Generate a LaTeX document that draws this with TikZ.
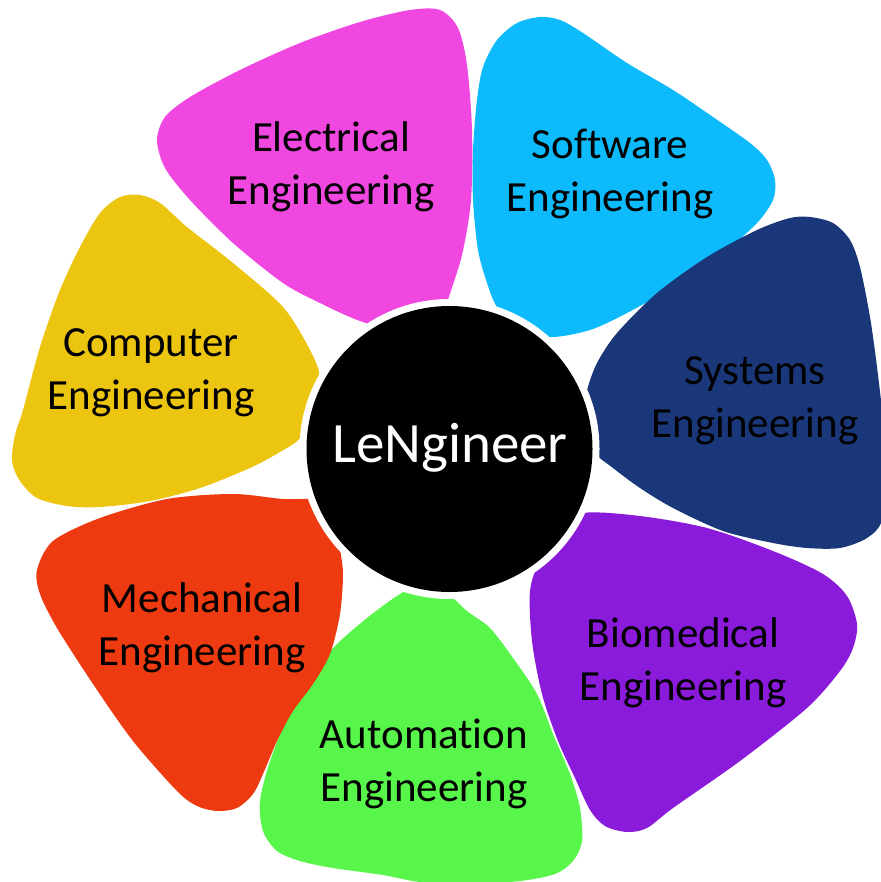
\documentclass[tikz,border=0pt]{standalone}
\usepackage{fontspec}
\setmainfont{Carlito}[Ligatures={NoCommon}]
\definecolor{cMag}{HTML}{F047E0}
\definecolor{cCyan}{HTML}{0DBAFB}
\definecolor{cNavy}{HTML}{1A377A}
\definecolor{cPurple}{HTML}{8A1BDB}
\definecolor{cGreen}{HTML}{58F54B}
\definecolor{cRed}{HTML}{EE3A11}
\definecolor{cYellow}{HTML}{EBC510}
\begin{document}
\begin{tikzpicture}[x=0.5pt,y=-0.5pt,
  lab/.style={align=center, font=\fontsize{21.5}{26.5}\selectfont, text=black, inner sep=0pt},
  corelab/.style={font=\fontsize{28.5}{34}\selectfont, text=white, inner sep=0pt, anchor=base}]
\useasboundingbox (0,0) rectangle (881,882);
% Electrical
\fill[cMag] plot[smooth cycle, tension=0.5] coordinates {(410,335) (360,321) (320,303) (283,283) (233,243) (190,200) (165,168) (157,140) (165,117) (190,97) (240,70) (300,43) (360,22) (410,10) (440,10) (458,28) (467,65) (472,130) (471,200) (462,255) (448,300) (440,330)};
% Software
\fill[cCyan] plot[smooth cycle, tension=0.5] coordinates {(540,17) (517,23) (497,40) (483,67) (477,100) (473,150) (473,200) (478,250) (487,283) (497,307) (517,327) (550,337) (590,330) (627,313) (673,287) (723,253) (757,223) (773,200) (775,180) (767,160) (750,143) (713,117) (673,90) (627,63) (583,33) (560,20)};
% Systems
\fill[cNavy] plot[smooth cycle, tension=0.5] coordinates {(580,420) (587,390) (597,363) (617,333) (657,293) (707,257) (757,230) (790,218) (810,217) (833,223) (850,240) (860,267) (870,317) (877,367) (883,420) (886,470) (882,520) (867,538) (840,548) (807,548) (773,543) (723,531) (673,508) (640,488) (613,468) (593,451)};
% Biomedical
\fill[cPurple] plot[smooth cycle, tension=0.5] coordinates {(583,513) (640,516) (707,528) (773,551) (823,574) (847,596) (857,624) (853,648) (840,671) (807,708) (740,761) (673,808) (647,828) (627,832) (605,826) (590,810) (575,778) (558,741) (542,694) (532,641) (530,591) (540,560) (560,530)};
% Automation
\fill[cGreen] plot[smooth cycle, tension=0.5] coordinates {(430,580) (467,611) (490,628) (513,658) (537,694) (553,734) (570,774) (580,808) (582,841) (573,861) (555,874) (520,881) (470,884) (420,882) (383,875) (333,868) (300,861) (277,851) (263,831) (260,801) (270,761) (287,718) (307,681) (333,648) (367,618) (400,594)};
% Mechanical
\fill[cRed] plot[smooth cycle, tension=0.5] coordinates {(53,541) (100,518) (167,499) (233,494) (283,499) (320,500) (337,515) (340,548) (343,574) (340,614) (330,654) (313,684) (293,711) (277,741) (263,774) (253,794) (237,808) (217,811) (197,806) (177,791) (133,741) (93,684) (57,628) (40,594) (37,570)};
% Computer
\fill[cYellow] plot[smooth cycle, tension=0.5] coordinates {(140,195) (160,203) (187,227) (233,263) (283,307) (310,350) (320,378) (313,410) (300,438) (280,452) (250,468) (200,488) (150,501) (100,507) (67,506) (37,498) (20,481) (12,461) (15,435) (23,410) (40,347) (60,290) (80,247) (100,213) (120,197)};
% centre
\fill[white] (449.5,449) circle[radius=150];
\fill[black] (449.5,449) circle[radius=143];
\node[corelab] (core) at (450,462) {LeNgineer};
\node[lab] (elec) at (331,167) {\strut Electrical\\\strut Engineering};
\node[lab] (soft) at (610,174) {\strut Software\\\strut Engineering};
\node[lab] (sys) at (755,400) {\strut Systems\\\strut Engineering};
\node[lab] (bio) at (683,663) {\strut Biomedical\\\strut Engineering};
\node[lab] (auto) at (424,764) {\strut Automation\\\strut Engineering};
\node[lab] (mech) at (202,628) {\strut Mechanical\\\strut Engineering};
\node[lab] (comp) at (151,372) {\strut Computer\\\strut Engineering};
\end{tikzpicture}
\end{document}
